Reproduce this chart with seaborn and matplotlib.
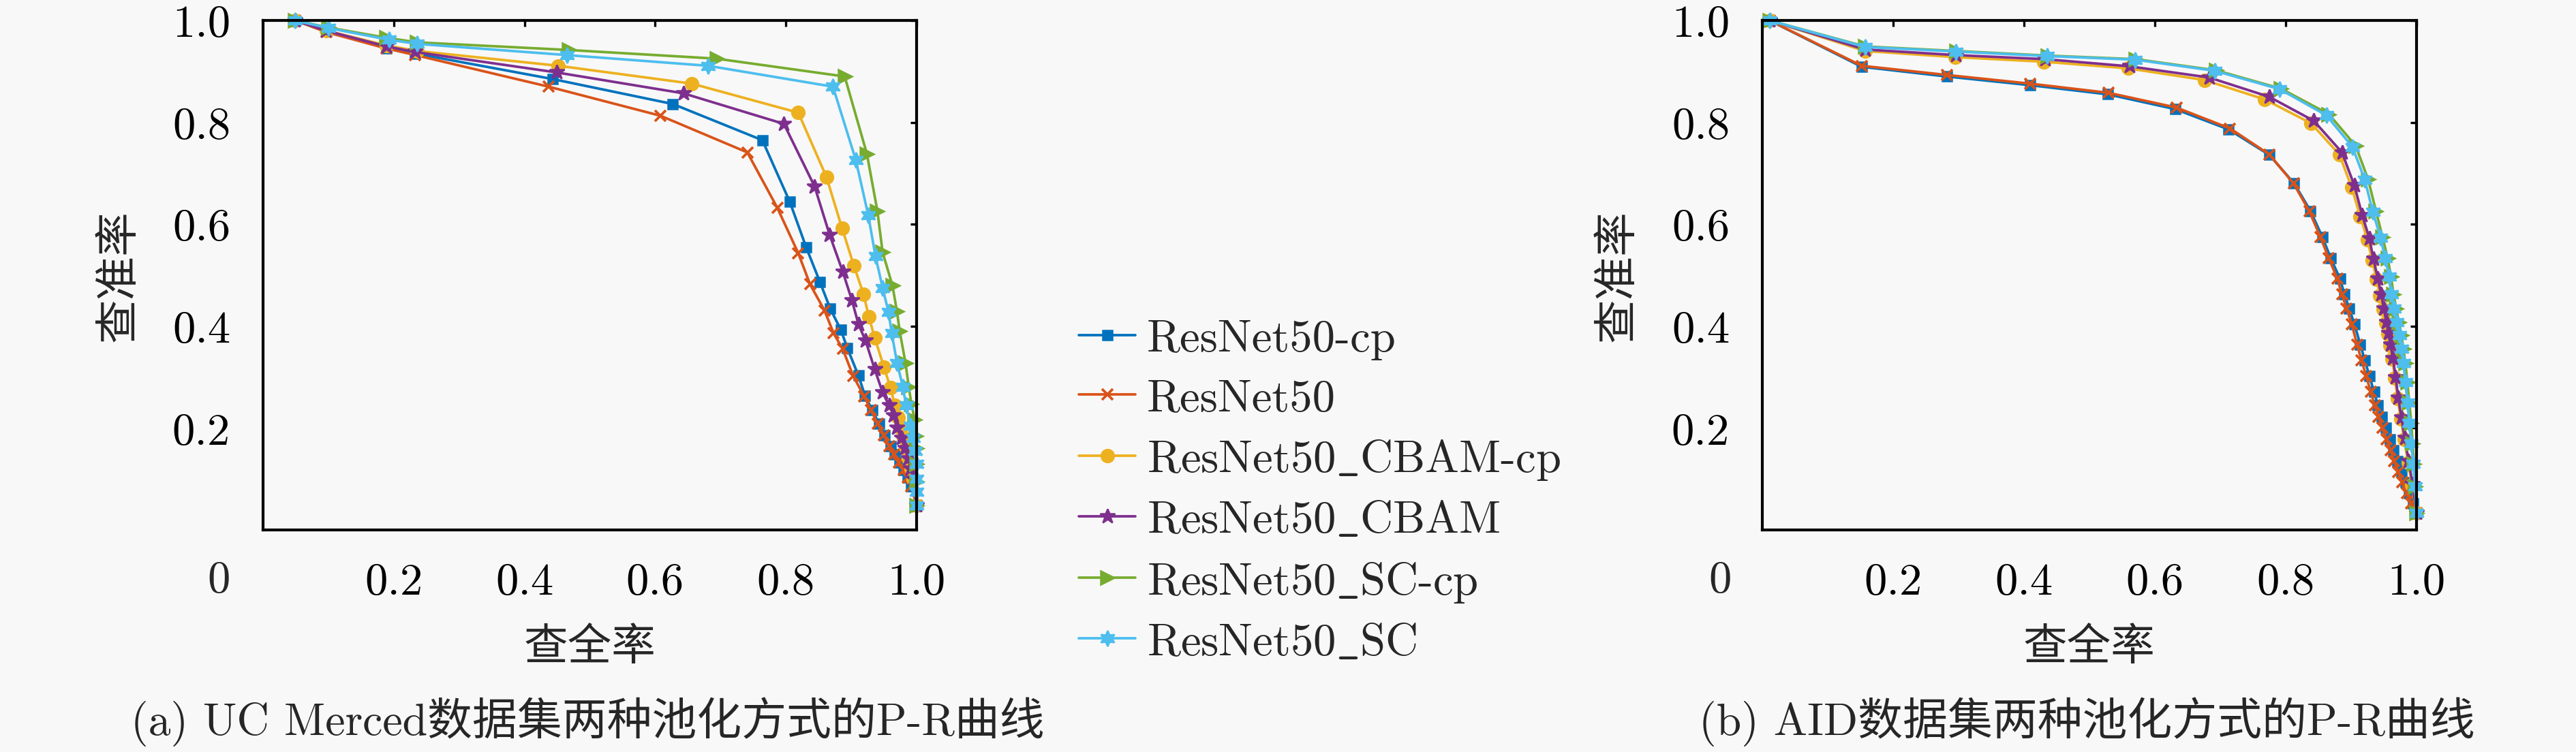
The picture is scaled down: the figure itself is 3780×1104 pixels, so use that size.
import matplotlib
matplotlib.use("Agg")
import matplotlib.pyplot as plt
import numpy as np
import pandas as pd
import seaborn as sns
from matplotlib.lines import Line2D

# ---------------- data ----------------
models = ["ResNet50-cp", "ResNet50", "ResNet50_CBAM-cp", "ResNet50_CBAM",
          "ResNet50_SC-cp", "ResNet50_SC"]
legend_labels = ["ResNet50-cp", "ResNet50", "ResNet50$\\_$CBAM-cp", "ResNet50$\\_$CBAM",
                 "ResNet50$\\_$SC-cp", "ResNet50$\\_$SC"]
x_tick_labels = ["0.2", "0.4", "0.6", "0.8", "1.0"]
y_tick_labels = ["0.2", "0.4", "0.6", "0.8", "1.0"]
titles = ["(a) UC Merced数据集两种池化方式的P-R曲线", "(b) AID数据集两种池化方式的P-R曲线"]

# UC Merced
ucm_r_resnet50_cp = [0.049, 0.097, 0.189, 0.233, 0.443, 0.627, 0.764, 0.806, 0.831, 0.852, 0.868, 0.884, 0.894,
                     0.911, 0.921, 0.932, 0.943, 0.951, 0.960, 0.967, 0.974, 0.980, 0.986, 0.992, 1.0]
ucm_p_resnet50_cp = [1.0, 0.980, 0.945, 0.935, 0.885, 0.836, 0.765, 0.644, 0.555, 0.487, 0.434, 0.393, 0.357,
                     0.303, 0.264, 0.235, 0.208, 0.186, 0.164, 0.148, 0.132, 0.117, 0.103, 0.085, 0.048]
ucm_r_resnet50 = [0.049, 0.097, 0.189, 0.233, 0.437, 0.608, 0.741, 0.787, 0.819, 0.837, 0.859, 0.873, 0.887,
                  0.903, 0.920, 0.930, 0.941, 0.950, 0.958, 0.966, 0.973, 0.980, 0.986, 0.992, 1.0]
ucm_p_resnet50 = [1.0, 0.977, 0.945, 0.932, 0.870, 0.813, 0.741, 0.632, 0.543, 0.482, 0.431, 0.386, 0.355,
                  0.302, 0.262, 0.235, 0.208, 0.186, 0.165, 0.148, 0.132, 0.117, 0.103, 0.085, 0.048]
ucm_r_cbam_cp = [0.049, 0.097, 0.189, 0.236, 0.452, 0.656, 0.819, 0.862, 0.886, 0.904, 0.919, 0.927, 0.936,
                 0.950, 0.960, 0.967, 0.972, 0.976, 0.980, 0.984, 0.988, 0.992, 0.995, 1.0]
ucm_p_cbam_cp = [1.0, 0.980, 0.951, 0.940, 0.911, 0.876, 0.819, 0.693, 0.592, 0.519, 0.462, 0.418, 0.377,
                 0.320, 0.279, 0.244, 0.220, 0.199, 0.180, 0.160, 0.140, 0.120, 0.100, 0.048]
ucm_r_cbam = [0.049, 0.096, 0.189, 0.233, 0.449, 0.643, 0.797, 0.844, 0.867, 0.887, 0.901, 0.911, 0.922,
              0.936, 0.948, 0.958, 0.965, 0.970, 0.977, 0.982, 0.987, 0.991, 0.995, 1.0]
ucm_p_cbam = [1.0, 0.980, 0.949, 0.938, 0.898, 0.857, 0.797, 0.674, 0.579, 0.507, 0.451, 0.404, 0.371,
              0.315, 0.270, 0.244, 0.225, 0.200, 0.180, 0.160, 0.140, 0.120, 0.100, 0.048]
ucm_r_sc_cp = [0.049, 0.100, 0.189, 0.236, 0.468, 0.694, 0.890, 0.924, 0.940, 0.948, 0.963, 0.970, 0.974,
               0.983, 0.988, 0.992, 0.997, 0.999, 1.0, 1.0, 1.0, 1.0]
ucm_p_sc_cp = [1.0, 0.986, 0.966, 0.957, 0.942, 0.925, 0.890, 0.738, 0.626, 0.545, 0.480, 0.429, 0.391,
               0.328, 0.281, 0.248, 0.217, 0.185, 0.160, 0.130, 0.095, 0.048]
ucm_r_sc = [0.049, 0.100, 0.193, 0.236, 0.465, 0.681, 0.872, 0.907, 0.926, 0.937, 0.948, 0.957, 0.962,
            0.970, 0.979, 0.984, 0.991, 0.995, 0.998, 1.0, 1.0, 1.0, 1.0]
ucm_p_sc = [1.0, 0.985, 0.962, 0.954, 0.932, 0.911, 0.870, 0.726, 0.618, 0.538, 0.475, 0.428, 0.386,
            0.328, 0.281, 0.244, 0.204, 0.180, 0.155, 0.130, 0.100, 0.075, 0.048]

# AID
aid_r_resnet50_cp = [0.011, 0.152, 0.282, 0.409, 0.528, 0.631, 0.713, 0.775, 0.813, 0.838, 0.856, 0.869, 0.883,
                     0.890, 0.897, 0.905, 0.914, 0.921, 0.928, 0.935, 0.941, 0.947, 0.953, 0.959, 0.965, 0.971,
                     0.977, 0.983, 0.989, 0.995, 1.0]
aid_p_resnet50_cp = [1.0, 0.909, 0.890, 0.873, 0.855, 0.826, 0.786, 0.736, 0.680, 0.626, 0.575, 0.533, 0.493,
                     0.462, 0.435, 0.404, 0.364, 0.333, 0.302, 0.271, 0.245, 0.222, 0.200, 0.178, 0.157, 0.135,
                     0.114, 0.093, 0.072, 0.052, 0.033]
aid_r_resnet50 = [0.011, 0.152, 0.282, 0.409, 0.529, 0.633, 0.715, 0.775, 0.812, 0.836, 0.853, 0.866, 0.879,
                  0.886, 0.893, 0.901, 0.909, 0.916, 0.923, 0.930, 0.936, 0.942, 0.948, 0.954, 0.960, 0.966,
                  0.972, 0.978, 0.985, 0.992, 1.0]
aid_p_resnet50 = [1.0, 0.911, 0.893, 0.876, 0.858, 0.829, 0.788, 0.737, 0.680, 0.626, 0.575, 0.533, 0.493,
                  0.462, 0.435, 0.404, 0.364, 0.333, 0.302, 0.271, 0.245, 0.222, 0.200, 0.178, 0.157, 0.135,
                  0.114, 0.093, 0.072, 0.052, 0.033]
aid_r_cbam_cp = [0.011, 0.157, 0.295, 0.430, 0.559, 0.676, 0.768, 0.839, 0.882, 0.901, 0.914, 0.925, 0.932,
                 0.939, 0.944, 0.949, 0.953, 0.956, 0.959, 0.963, 0.967, 0.971, 0.976, 0.981, 0.987, 0.993, 1.0]
aid_p_cbam_cp = [1.0, 0.940, 0.928, 0.919, 0.906, 0.883, 0.845, 0.798, 0.737, 0.672, 0.615, 0.570, 0.530,
                 0.492, 0.460, 0.433, 0.407, 0.385, 0.362, 0.335, 0.298, 0.258, 0.218, 0.178, 0.133, 0.088, 0.033]
aid_r_cbam = [0.011, 0.157, 0.296, 0.432, 0.561, 0.683, 0.775, 0.843, 0.886, 0.905, 0.917, 0.928, 0.934,
              0.941, 0.946, 0.950, 0.954, 0.957, 0.960, 0.964, 0.968, 0.972, 0.977, 0.982, 0.988, 0.994, 1.0]
aid_p_cbam = [1.0, 0.943, 0.932, 0.924, 0.910, 0.888, 0.850, 0.803, 0.741, 0.676, 0.618, 0.572, 0.532,
              0.493, 0.462, 0.435, 0.408, 0.386, 0.364, 0.337, 0.300, 0.260, 0.220, 0.180, 0.135, 0.090, 0.033]
aid_r_sc_cp = [0.011, 0.157, 0.297, 0.436, 0.571, 0.694, 0.793, 0.866, 0.907, 0.926, 0.938, 0.948, 0.956,
               0.961, 0.965, 0.969, 0.973, 0.977, 0.980, 0.983, 0.986, 0.989, 0.992, 0.994, 0.996, 0.998, 1.0]
aid_p_sc_cp = [1.0, 0.949, 0.940, 0.931, 0.924, 0.902, 0.866, 0.816, 0.754, 0.688, 0.626, 0.575, 0.533,
               0.497, 0.462, 0.435, 0.408, 0.382, 0.355, 0.328, 0.290, 0.250, 0.210, 0.170, 0.130, 0.085, 0.033]
aid_r_sc = [0.011, 0.157, 0.296, 0.435, 0.570, 0.692, 0.791, 0.862, 0.902, 0.921, 0.933, 0.945, 0.952,
            0.958, 0.961, 0.966, 0.970, 0.974, 0.977, 0.980, 0.983, 0.986, 0.989, 0.992, 0.995, 0.998, 1.0]
aid_p_sc = [1.0, 0.948, 0.939, 0.930, 0.923, 0.901, 0.865, 0.814, 0.752, 0.687, 0.625, 0.574, 0.533,
            0.497, 0.462, 0.435, 0.408, 0.382, 0.355, 0.328, 0.290, 0.250, 0.210, 0.170, 0.130, 0.085, 0.033]

ucm_series = [(ucm_r_resnet50_cp, ucm_p_resnet50_cp), (ucm_r_resnet50, ucm_p_resnet50),
              (ucm_r_cbam_cp, ucm_p_cbam_cp), (ucm_r_cbam, ucm_p_cbam),
              (ucm_r_sc_cp, ucm_p_sc_cp), (ucm_r_sc, ucm_p_sc)]
aid_series = [(aid_r_resnet50_cp, aid_p_resnet50_cp), (aid_r_resnet50, aid_p_resnet50),
              (aid_r_cbam_cp, aid_p_cbam_cp), (aid_r_cbam, aid_p_cbam),
              (aid_r_sc_cp, aid_p_sc_cp), (aid_r_sc, aid_p_sc)]


def to_frame(series):
    rows = []
    for m, (r, p) in zip(models, series):
        for i, (ri, pi) in enumerate(zip(r, p)):
            rows.append({"model": m, "recall": ri, "precision": pi, "idx": i})
    return pd.DataFrame(rows)


df_ucm = to_frame(ucm_series)
df_aid = to_frame(aid_series)

# ---------------- style ----------------
colors = ["#0072BD", "#D95319", "#EDB120", "#7E2F8E", "#77AC30", "#4DBEEE"]
sns_markers = ["s", "X", "o", "*", ">", (6, 1, 0)]      # seaborn needs all-filled markers
final_markers = ["s", "x", "o", "*", ">", (6, 1, 0)]    # final look (thin cross for ResNet50)
marker_sizes = [3.5, 3.8, 4.5, 5.5, 5.0, 5.5]
marker_ew = [0.6, 0.9, 0.6, 0.6, 0.6, 0.6]
palette = dict(zip(models, colors))
markers = dict(zip(models, sns_markers))

sns.set_theme(style="white")
bg = "#f8f8f8"
plt.rcParams["font.family"] = ["cmr10", "Noto Sans CJK SC"]
plt.rcParams["mathtext.fontset"] = "cm"
plt.rcParams["axes.unicode_minus"] = False
plt.rcParams["axes.formatter.use_mathtext"] = True

fig = plt.figure(figsize=(12.6, 3.6833), dpi=300, facecolor=bg)
W, H = 3780.0, 1105.0
ax_rects = [[386 / W, 1 - 779 / H, 959 / W, 748 / H],
            [2586 / W, 1 - 779 / H, 960 / W, 748 / H]]
frames = [df_ucm, df_aid]
zero_x = [-0.068, -0.065]
title_x = [192 / W, 2493 / W]

for k in range(2):
    ax = fig.add_axes(ax_rects[k])
    ax.set_facecolor(bg)
    sns.lineplot(data=frames[k], x="recall", y="precision", hue="model", style="model",
                 hue_order=models, style_order=models, palette=palette, markers=markers,
                 dashes=False, estimator=None, sort=False, legend=False, ax=ax,
                 linewidth=0.9, markersize=4.5, clip_on=False)
    for line, c, mk, ms, ew in zip(ax.lines, colors, final_markers, marker_sizes, marker_ew):
        line.set_marker(mk)
        line.set_markeredgecolor(c)
        line.set_markerfacecolor(c)
        line.set_markersize(ms)
        line.set_markeredgewidth(ew)
    ax.set_xlim(0, 1)
    ax.set_ylim(0, 1)
    ax.set_xticks([0.2, 0.4, 0.6, 0.8, 1.0], labels=x_tick_labels)
    ax.set_yticks([0.2, 0.4, 0.6, 0.8, 1.0], labels=y_tick_labels)
    ax.tick_params(direction="in", top=True, right=True, length=2.2, width=0.8,
                   labelsize=16, colors="black")
    ax.tick_params(axis="x", pad=11.5)
    ax.tick_params(axis="y", pad=11.5)
    for sp in ax.spines.values():
        sp.set_visible(True)
        sp.set_linewidth(1.0)
        sp.set_color("black")
    ax.set_xlabel("查全率", fontsize=15.5, family=["Noto Sans CJK SC"])
    ax.set_ylabel("查准率", fontsize=15.5, family=["Noto Sans CJK SC"])
    ax.xaxis.set_label_coords(0.5, -0.23)
    ax.xaxis.label.set_va("center")
    ax.yaxis.set_label_coords(-0.221, 0.5)
    ax.yaxis.label.set_va("center")
    ax.yaxis.label.set_ha("center")
    ax.text(zero_x[k], -0.099, "0", transform=ax.transAxes, ha="center", va="center", fontsize=16)
    fig.text(title_x[k], 1 - 1060 / H, titles[k], ha="left", va="center", fontsize=15.8)

handles = [Line2D([], [], color=c, marker=m, markersize=ms, markeredgecolor=c, markerfacecolor=c,
                  linewidth=0.9, markeredgewidth=ew)
           for c, m, ms, ew in zip(colors, final_markers, marker_sizes, marker_ew)]
fig.legend(handles, legend_labels, loc="center left", bbox_to_anchor=(1583 / W, 1 - 722 / H),
           frameon=False, fontsize=16, handlelength=1.25, handletextpad=0.25, labelspacing=0.41,
           borderpad=0, borderaxespad=0, numpoints=1)

fig.savefig("out.png", dpi=300, facecolor=bg)
